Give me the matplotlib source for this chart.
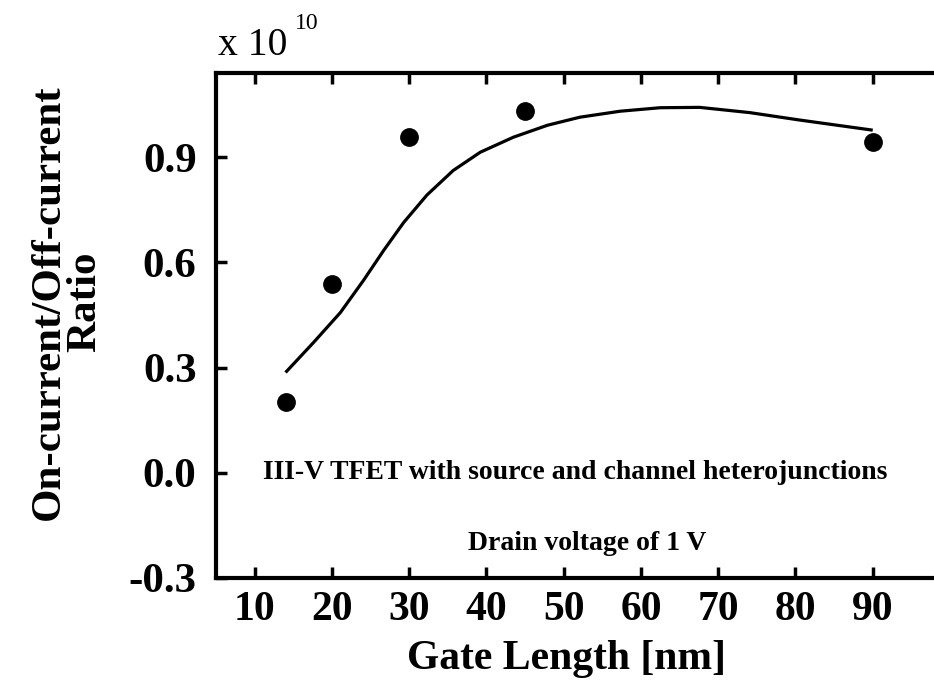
import matplotlib
matplotlib.use("Agg")
import matplotlib.pyplot as plt

# measured points
gate_length = [14, 20, 30, 45, 90]
ratio = [0.203, 0.537, 0.957, 1.032, 0.944]

# fitted curve
fit_x = [14.0, 17.6, 21.1, 24.1, 26.7, 29.3, 32.3, 35.7, 39.2, 43.5, 47.9,
         52.1, 57.3, 62.5, 67.6, 74.1, 80.5, 90.0]
fit_y = [0.286, 0.371, 0.457, 0.549, 0.634, 0.714, 0.792, 0.862, 0.914, 0.957, 0.991,
         1.014, 1.031, 1.041, 1.042, 1.027, 1.006, 0.977]

xticks = [10, 20, 30, 40, 50, 60, 70, 80, 90]
yticks = [-0.3, 0.0, 0.3, 0.6, 0.9]

plt.rcParams['font.family'] = 'Liberation Serif'
plt.rcParams['font.weight'] = 'bold'

fig = plt.figure(figsize=(9.34, 6.8), dpi=100)
ax = fig.add_axes([216/934, 1 - 578/680, (950 - 216)/934, (578 - 73)/680])

ax.plot(fit_x, fit_y, color='black', linewidth=2.3, solid_capstyle='butt',
        solid_joinstyle='round')
ax.plot(gate_length, ratio, 'o', color='black', markersize=12.5)

ax.set_xlim(5, 100)
ax.set_ylim(-0.3, 1.14)
ax.set_xticks(xticks)
ax.set_yticks(yticks)
ax.set_yticklabels(['%.1f' % v for v in yticks])

for s in ax.spines.values():
    s.set_linewidth(3)
ax.tick_params(axis='x', direction='in', top=True, length=8, width=2.5, labelsize=30, pad=9)
ax.tick_params(axis='y', direction='in', length=8, width=2.5, labelsize=31, pad=14)

ax.set_xlabel('Gate Length [nm]', fontsize=30, fontweight='bold')
ax.xaxis.set_label_coords(0.478, -0.122)
fig.text(0.072, 0.556, 'On-current/Off-current\nRatio', rotation=90, fontsize=31,
         fontweight='bold', ha='center', va='center', multialignment='center',
         linespacing=0.95)

ax.text(51.5, 0.0, 'III-V TFET with source and channel heterojunctions',
        fontsize=20, fontweight='bold', ha='center', va='center')
ax.text(53.0, -0.203, 'Drain voltage of 1 V',
        fontsize=20, fontweight='bold', ha='center', va='center')

fig.text(218/934, 1 - 55/680, 'x 10', fontsize=28.5, fontweight='normal', ha='left', va='baseline')
fig.text(295/934, 1 - 29/680, '10', fontsize=17, fontweight='normal', ha='left', va='baseline')

fig.savefig('out.png', dpi=100)
